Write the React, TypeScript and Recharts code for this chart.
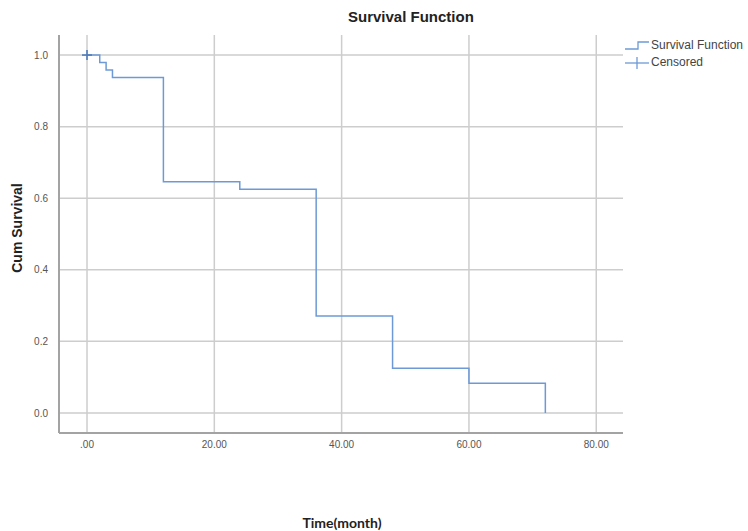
import {
  ComposedChart,
  Line,
  Scatter,
  XAxis,
  YAxis,
  CartesianGrid,
} from "recharts";

// Kaplan-Meier estimate (n = 48)
const times = [0, 2, 3, 4, 12, 24, 36, 48, 60, 72];
const survival = [1.0, 0.979, 0.958, 0.9375, 0.646, 0.625, 0.271, 0.125, 0.083, 0.0];
const censoredTimes = [0];
const censoredSurvival = [1.0];

const xTicks = [0, 20, 40, 60, 80];
const yTicks = [0, 0.2, 0.4, 0.6, 0.8, 1.0];

const curve = times.map((t, i) => ({ t, s: survival[i] }));
const censored = censoredTimes.map((t, i) => ({ t, s: censoredSurvival[i] }));

const LINE = "#6d9ad6";
const GRID = "#cdcdcd";
const AXIS = "#a3a3a3";
const FONT = "'Liberation Sans', Arial, sans-serif";

const Plus = (props: any) => {
  const { cx, cy } = props;
  return (
    <g stroke="#4f7cba" strokeWidth={1.6}>
      <line x1={cx - 5} y1={cy} x2={cx + 5} y2={cy} />
      <line x1={cx} y1={cy - 5} x2={cx} y2={cy + 5} />
    </g>
  );
};

export default function App() {
  return (
    <div style={{ position: "absolute", left: 0, top: 0, width: 748, height: 531, background: "#fff", fontFamily: FONT, overflow: "hidden" }}>
      <ComposedChart
        width={748}
        height={531}
        margin={{ top: 35, right: 125, bottom: 68, left: 0 }}
      >
        <CartesianGrid stroke={GRID} strokeWidth={1.5} syncWithTicks />
        <XAxis
          type="number"
          dataKey="t"
          domain={[-4.4, 84.2]}
          allowDataOverflow
          ticks={xTicks}
          tickFormatter={(v: number) => (v === 0 ? ".00" : v.toFixed(2))}
          tickLine={false}
          tickSize={0}
          tickMargin={8}
          height={30}
          axisLine={{ stroke: AXIS, strokeWidth: 2 }}
          tick={{ fill: "#555", fontSize: 10, fontFamily: FONT }}
        />
        <YAxis
          type="number"
          domain={[-0.056, 1.056]}
          allowDataOverflow
          ticks={yTicks}
          tickFormatter={(v: number) => v.toFixed(1)}
          tickLine={false}
          tickSize={0}
          tickMargin={11}
          width={59}
          axisLine={{ stroke: AXIS, strokeWidth: 2 }}
          tick={{ fill: "#555", fontSize: 10, fontFamily: FONT }}
        />
        <Line
          data={curve}
          dataKey="s"
          type="stepAfter"
          stroke={LINE}
          strokeWidth={1.5}
          dot={false}
          isAnimationActive={false}
        />
        <Scatter
          data={censored}
          dataKey="s"
          shape={<Plus />}
          isAnimationActive={false}
        />
      </ComposedChart>

      <div style={{ position: "absolute", left: 348, top: 8, fontSize: 15, fontWeight: "bold", color: "#222" }}>
        Survival Function
      </div>
      <div
        style={{
          position: "absolute",
          left: 17,
          top: 228,
          transform: "translate(-50%, -50%) rotate(-90deg)",
          whiteSpace: "nowrap",
          fontSize: 14,
          fontWeight: "bold",
          color: "#222",
        }}
      >
        Cum Survival
      </div>
      <div
        style={{
          position: "absolute",
          left: 342,
          top: 522,
          transform: "translate(-50%, -50%)",
          whiteSpace: "nowrap",
          fontSize: 14,
          fontWeight: "bold",
          fontFamily: "Lato, sans-serif",
          color: "#222",
        }}
      >
        Time(month)
      </div>

      <div style={{ position: "absolute", left: 625, top: 37, fontSize: 12, color: "#444", lineHeight: "17px", whiteSpace: "nowrap" }}>
        <div style={{ display: "flex", alignItems: "center" }}>
          <svg width={24} height={14}>
            <polyline points="0,10 13,10 13,3 24,3" fill="none" stroke={LINE} strokeWidth={1.3} />
          </svg>
          <span style={{ marginLeft: 2 }}>Survival Function</span>
        </div>
        <div style={{ display: "flex", alignItems: "center" }}>
          <svg width={24} height={14}>
            <line x1={0} y1={7} x2={24} y2={7} stroke={LINE} strokeWidth={1.3} />
            <line x1={12} y1={1} x2={12} y2={13} stroke={LINE} strokeWidth={1.3} />
          </svg>
          <span style={{ marginLeft: 2 }}>Censored</span>
        </div>
      </div>
    </div>
  );
}
